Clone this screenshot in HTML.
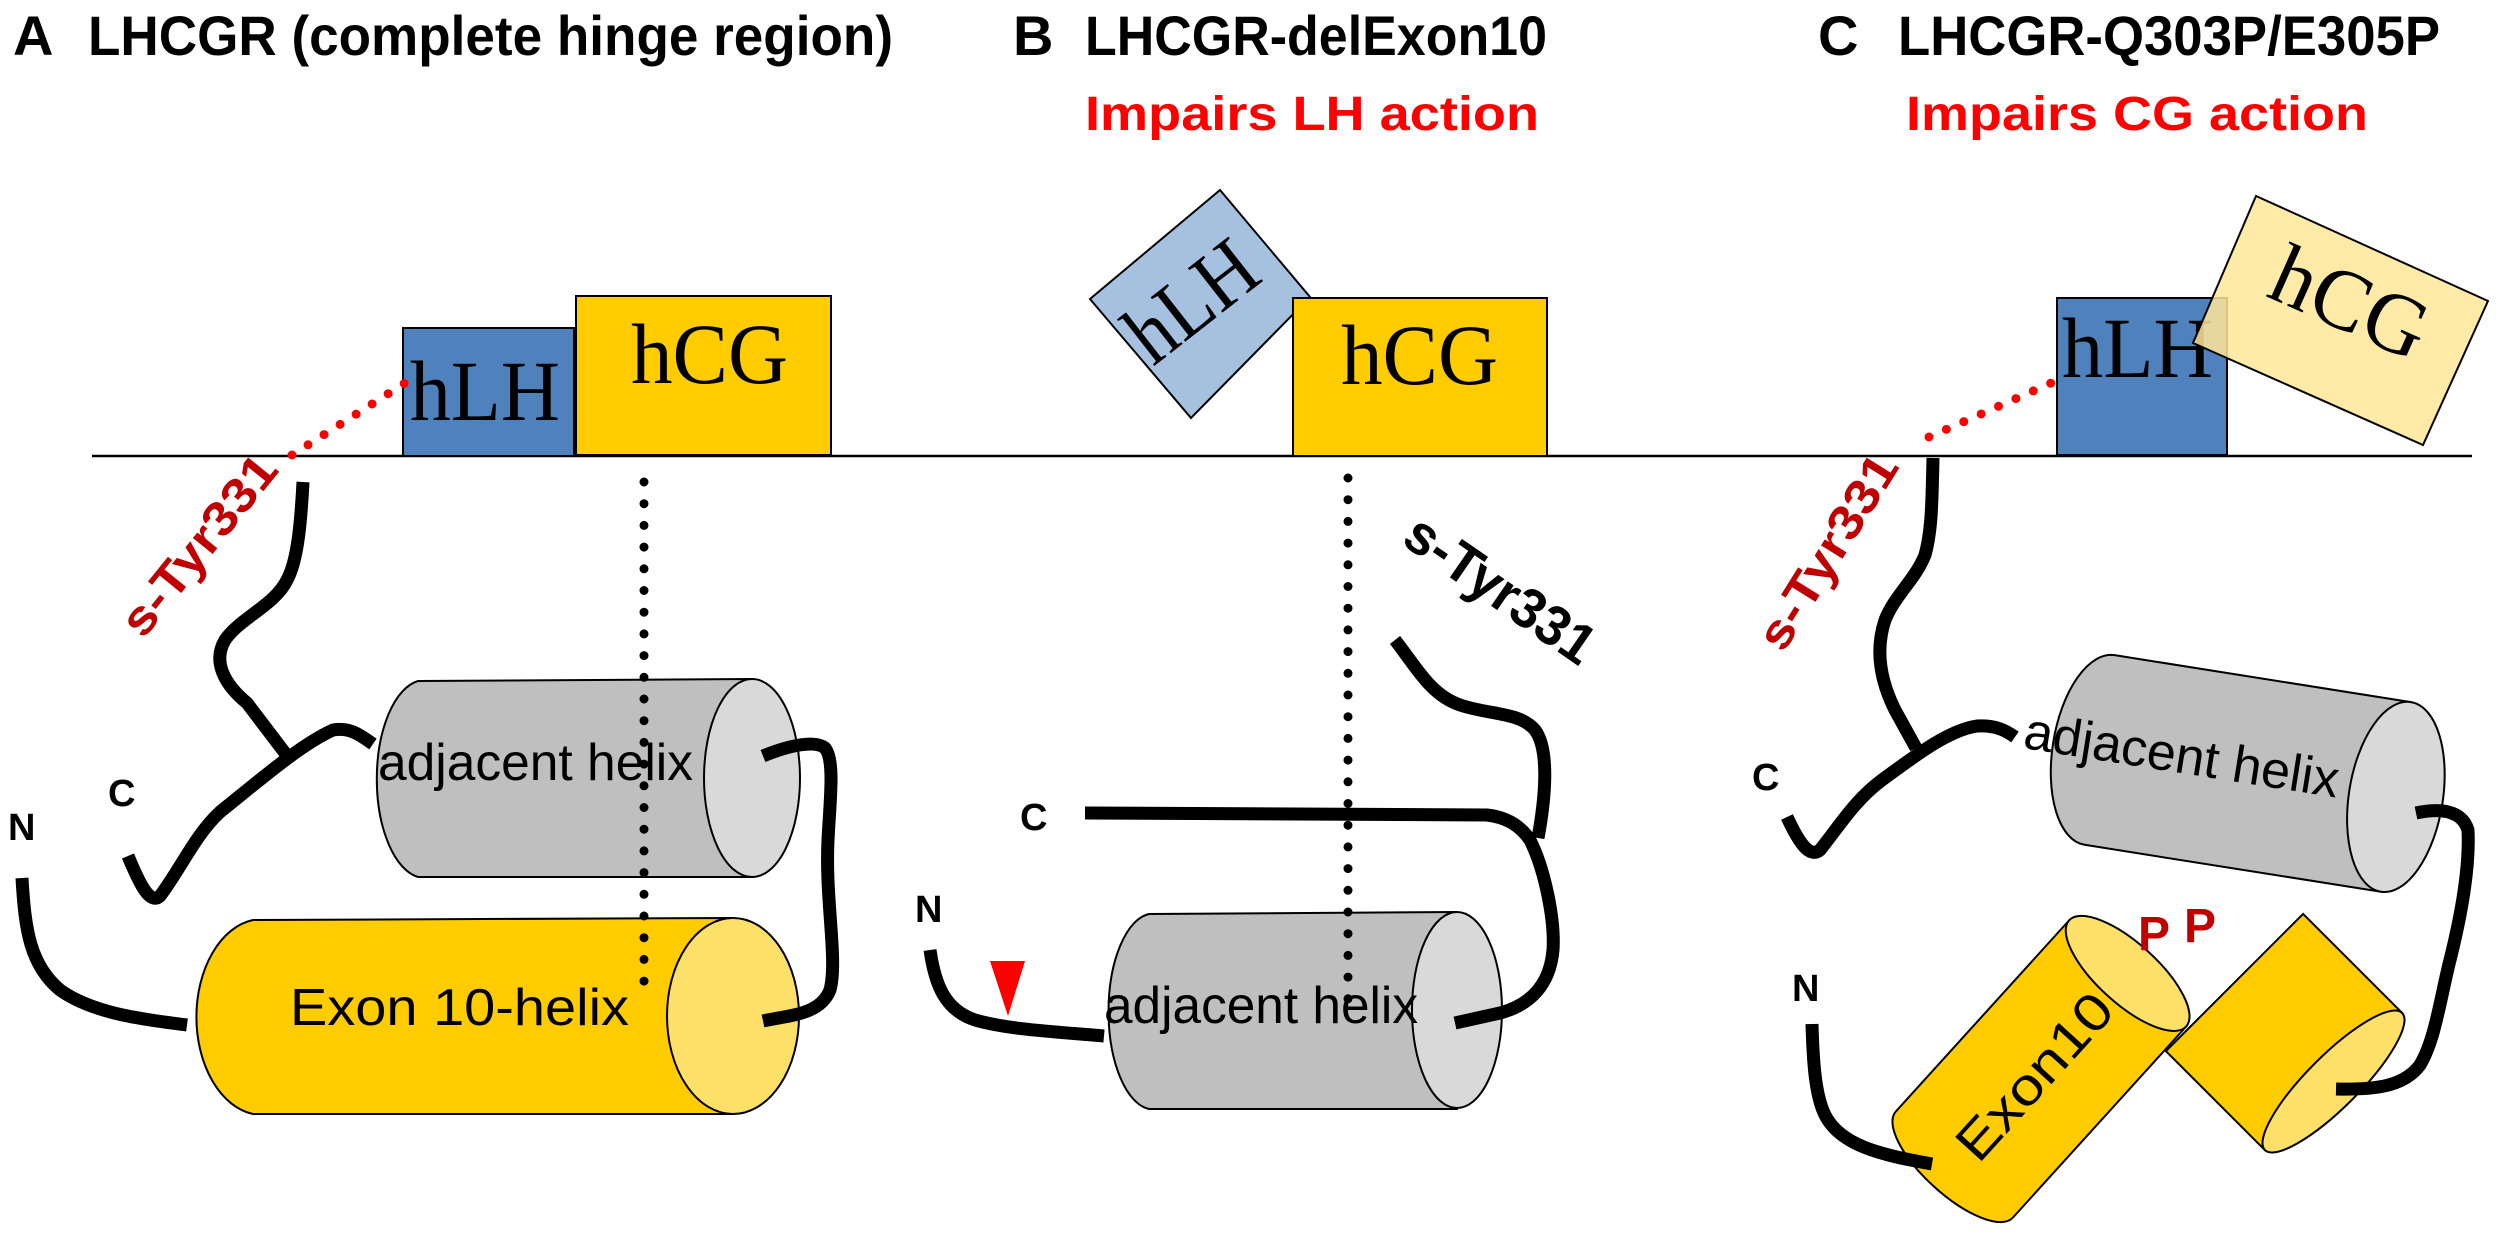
<!DOCTYPE html>
<html><head><meta charset="utf-8"><style>
html,body{margin:0;padding:0;background:#fff;}
svg{display:block;}
text{font-family:"Liberation Sans",sans-serif;}
.t{font-weight:bold;font-size:56px;fill:#000;}
.r{font-weight:bold;font-size:48px;fill:#ff0000;}
.ser{font-family:"Liberation Serif",serif;font-size:86px;fill:#000;}
.lbl{font-weight:bold;font-size:38px;fill:#000;}
.hx{font-size:52px;fill:#000;}
.k{fill:none;stroke:#000;stroke-width:13;}
.dot{fill:none;stroke:#000;stroke-width:9;stroke-linecap:round;stroke-dasharray:0 21.7;}
.rdot{fill:none;stroke:#ff0000;stroke-width:9;stroke-linecap:round;stroke-dasharray:0 19;}
</style></head><body>
<svg width="2500" height="1235" viewBox="0 0 2500 1235" xmlns="http://www.w3.org/2000/svg">
<text class="t" x="13" y="55">A</text>
<text class="t" x="88" y="55" textLength="805" lengthAdjust="spacingAndGlyphs">LHCGR (complete hinge region)</text>
<text class="t" x="1013" y="55">B</text>
<text class="t" x="1085" y="55" textLength="462" lengthAdjust="spacingAndGlyphs">LHCGR-delExon10</text>
<text class="t" x="1818" y="55">C</text>
<text class="t" x="1898" y="55" textLength="542" lengthAdjust="spacingAndGlyphs">LHCGR-Q303P/E305P</text>
<text class="r" x="1085" y="130" textLength="454" lengthAdjust="spacingAndGlyphs">Impairs LH action</text>
<text class="r" x="1906" y="130" textLength="462" lengthAdjust="spacingAndGlyphs">Impairs CG action</text>

<line x1="92" y1="456" x2="2472" y2="456" stroke="#000" stroke-width="2.5"/>

<!-- Panel A -->
<rect x="403" y="328" width="171" height="128" fill="#4f81bd" stroke="#000" stroke-width="2"/>
<text class="ser" x="410" y="420" textLength="150" lengthAdjust="spacingAndGlyphs">hLH</text>
<rect x="576" y="296" width="255" height="159" fill="#ffcc00" stroke="#000" stroke-width="2"/>
<text class="ser" x="631" y="383" textLength="157" lengthAdjust="spacingAndGlyphs">hCG</text>
<path class="rdot" d="M292 455 L405 383"/>
<text class="r" font-size="44" transform="translate(143,640) rotate(-51)" style="fill:#c00000" textLength="218" lengthAdjust="spacingAndGlyphs">s-Tyr331</text>
<path class="k" d="M303 482 C301 520 298 560 287 580 C275 605 240 618 225 640 C212 662 225 685 247 703 L285 753"/>
<path d="M752 679 L418 681 A48 99 0 0 0 418 877 L752 877 Z" fill="#bfbfbf" stroke="#000" stroke-width="2"/>
<ellipse cx="752" cy="778" rx="48" ry="99" fill="#d9d9d9" stroke="#000" stroke-width="2"/>
<text class="hx" x="378" y="780" textLength="315" lengthAdjust="spacingAndGlyphs">adjacent helix</text>
<path class="k" d="M128 856 C140 885 150 905 160 896 C180 870 195 835 220 812 C260 780 300 745 333 730 C350 727 360 735 373 744"/>
<text class="lbl" x="108" y="806">C</text>
<text class="lbl" x="8" y="840">N</text>
<path d="M733 918 L253 920 A66 98 0 0 0 253 1114 L733 1114 Z" fill="#ffcc00" stroke="#000" stroke-width="2"/>
<ellipse cx="733" cy="1016" rx="66" ry="98" fill="#fde068" stroke="#000" stroke-width="2"/>
<text class="hx" x="290" y="1025" textLength="339" lengthAdjust="spacingAndGlyphs">Exon 10-helix</text>
<path class="k" d="M22 878 C25 930 30 965 60 990 C95 1015 150 1020 187 1025"/>
<path class="k" d="M763 756 C790 745 815 740 825 748 C835 760 830 800 828 840 C825 900 838 960 830 990 C820 1015 790 1015 763 1021"/>
<path class="dot" d="M644 482 L644 1000"/>

<!-- Panel B -->
<polygon points="1220,190 1310,297 1191,418 1090,299" fill="#a6c0e0" stroke="#000" stroke-width="2"/>
<text class="ser" transform="translate(1153,367) rotate(-38)" textLength="142" lengthAdjust="spacingAndGlyphs">hLH</text>
<rect x="1293" y="298" width="254" height="158" fill="#ffcc00" stroke="#000" stroke-width="2"/>
<text class="ser" x="1341" y="384" textLength="157" lengthAdjust="spacingAndGlyphs">hCG</text>
<path class="k" d="M1395 640 C1415 665 1430 695 1460 705 C1490 715 1520 712 1535 730 C1550 750 1545 800 1538 838"/>
<text class="t" font-size="44" transform="translate(1400,543) rotate(34.6)" textLength="218" lengthAdjust="spacingAndGlyphs">s-Tyr331</text>
<path d="M1457 912 L1149 914 A45 98 0 0 0 1149 1109 L1457 1109 Z" fill="#bfbfbf" stroke="#000" stroke-width="2"/>
<ellipse cx="1457" cy="1010" rx="45" ry="98" fill="#d9d9d9" stroke="#000" stroke-width="2"/>
<text class="hx" x="1104" y="1023" textLength="314" lengthAdjust="spacingAndGlyphs">adjacent helix</text>
<path class="k" d="M1085 813 L1487 815 C1505 817 1520 825 1530 840 C1545 870 1555 920 1553 950 C1550 985 1530 1005 1500 1013 L1455 1023"/>
<text class="lbl" x="1020" y="830">C</text>
<text class="lbl" x="915" y="922">N</text>
<path class="k" d="M930 950 C935 985 945 1010 975 1020 C1010 1030 1060 1032 1104 1036"/>
<polygon points="990,961 1025,961 1008,1016" fill="#ff0000"/>
<path class="dot" d="M1348 478 L1348 1000"/>

<!-- Panel C -->
<rect x="2057" y="298" width="170" height="157" fill="#4f81bd" stroke="#000" stroke-width="2"/>
<text class="ser" x="2062" y="377" textLength="151" lengthAdjust="spacingAndGlyphs">hLH</text>
<polygon points="2256,196 2488,301 2423,445 2193,343" fill="#ffe699" fill-opacity="0.85" stroke="#000" stroke-width="2"/>
<text class="ser" transform="translate(2350,303) rotate(24)" text-anchor="middle" dy="28">hCG</text>
<path class="rdot" d="M1929 437 L2058 380"/>
<text class="r" font-size="44" transform="translate(1783,654) rotate(-58)" style="fill:#c00000" textLength="221" lengthAdjust="spacingAndGlyphs">s-Tyr331</text>
<path class="k" d="M1933 458 C1932 500 1932 530 1925 555 C1915 580 1895 595 1885 620 C1875 650 1880 680 1895 710 L1916 748"/>
<g transform="translate(2226,770) rotate(9)">
<path d="M172 -96 L-128 -96 A47 96 0 0 0 -128 96 L172 96 Z" fill="#bfbfbf" stroke="#000" stroke-width="2"/>
<ellipse cx="172" cy="0" rx="47" ry="96" fill="#d9d9d9" stroke="#000" stroke-width="2"/>
<text class="hx" x="-46" y="10" text-anchor="middle" textLength="318" lengthAdjust="spacingAndGlyphs">adjacent helix</text>
</g>
<path class="k" d="M1787 817 C1800 845 1810 858 1820 850 C1840 825 1855 800 1882 780 C1920 752 1950 730 1977 726 C1995 725 2005 730 2015 737"/>
<text class="lbl" x="1752" y="790">C</text>
<text class="lbl" x="1792" y="1001">N</text>
<g transform="translate(2284,1032) rotate(45)">
<path d="M70 -97 L-70 -97 L-70 97 L70 97 Z" fill="#ffcc00" stroke="#000" stroke-width="2"/>
<ellipse cx="70" cy="0" rx="26" ry="97" fill="#fde068" stroke="#000" stroke-width="2"/>
</g>
<g transform="translate(2041,1069) rotate(-47.8)">
<path d="M129 -79 L-129 -79 A30 79 0 0 0 -129 79 L129 79 Z" fill="#ffcc00" stroke="#000" stroke-width="2"/>
<ellipse cx="129" cy="0" rx="30" ry="79" fill="#fde068" stroke="#000" stroke-width="2"/>
<text class="hx" x="-10" y="18" text-anchor="middle" textLength="206" lengthAdjust="spacingAndGlyphs">Exon10</text>
</g>
<path class="k" d="M1812 1024 C1813 1060 1815 1095 1825 1115 C1840 1145 1880 1155 1932 1164"/>
<path class="k" d="M2416 813 C2440 808 2462 810 2468 830 C2470 870 2460 920 2450 960 C2440 1000 2435 1040 2420 1065 C2405 1085 2380 1090 2336 1089"/>
<text class="r" font-size="48" x="2138" y="950" style="fill:#c00000">P</text>
<text class="r" font-size="48" x="2184" y="942" style="fill:#c00000">P</text>
</svg>
</body></html>
